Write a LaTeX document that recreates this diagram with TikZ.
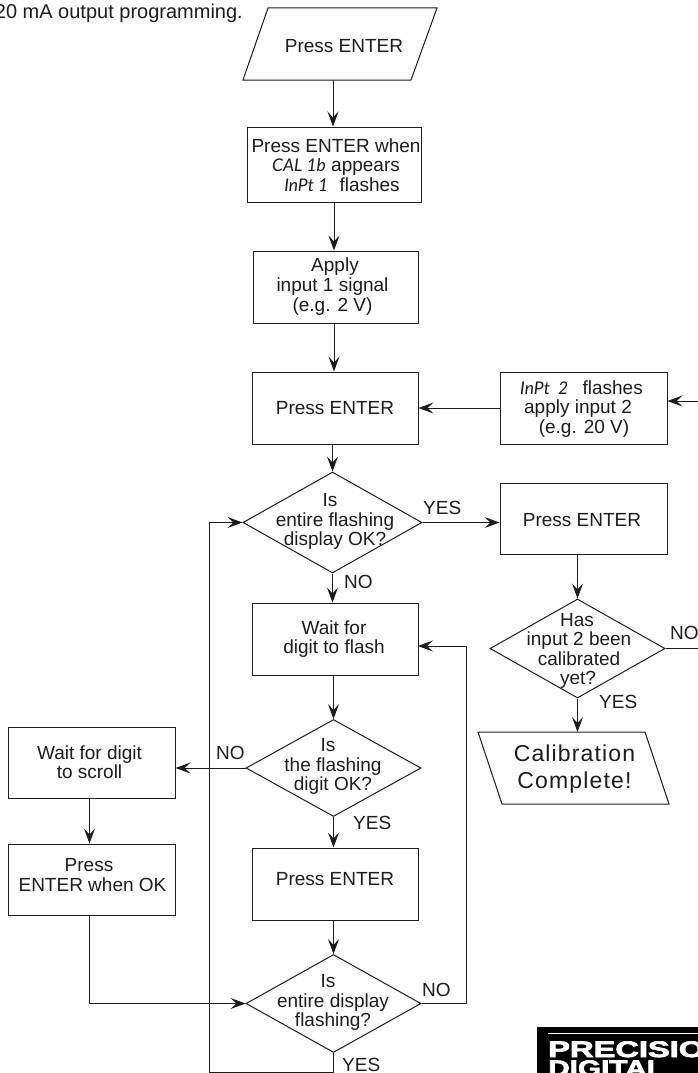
\documentclass[tikz,border=0pt]{standalone}
\usepackage{fontspec}
\setmainfont{Liberation Sans}
\newfontfamily\segf{Lato Italic}
\usetikzlibrary{shapes.geometric,arrows.meta,calc}
\definecolor{ink}{HTML}{1c1c1c}
\tikzset{
  x=1pt,y=-1pt,
  every node/.style={text=ink},
  stepbox/.style={draw=ink,line width=1pt,fill=white,inner sep=0pt,minimum width=#1,minimum height=72pt},
  stepbox/.default=166pt,
  decide/.style={draw=ink,line width=1pt,diamond,inner sep=0pt,aspect=1.8,minimum width=176pt,minimum height=98pt},
  para/.style={draw=ink,line width=1pt,line join=miter},
  txt/.style={align=center,inner sep=0pt,font=\fontsize{19}{19.6}\selectfont},
  tag/.style={anchor=base west,inner sep=0pt,font=\fontsize{19}{19.6}\selectfont},
  flow/.style={draw=ink,line width=1pt,-{Stealth[length=15pt,width=11pt,inset=6pt]}},
  link/.style={draw=ink,line width=1pt},
}
\newcommand{\sg}[1]{{\segf\fontsize{17.5}{19.6}\selectfont #1}}
\begin{document}
\begin{tikzpicture}
\useasboundingbox (0,0) rectangle (698,1073);
\node[anchor=base east,inner sep=0pt,font=\fontsize{20}{20}\selectfont] (head) at (243,19) {20 mA output programming.};

% start
\draw[para] (268,8) -- (437,8) -- (411,80) -- (243,80) -- cycle;
\coordinate (startB) at (333,80);
\node[txt] (startT) at (344,46) {Press ENTER};
\node[stepbox=174pt,minimum height=75pt] (b1) at (334,164.5) {};
\node[txt] (b1T) at (336,165) {Press ENTER when\\\sg{CAL 1b} appears\\\hspace*{12pt}\sg{InPt 1}\hspace{6pt} flashes};
\node[stepbox=165pt] (b2) at (335.5,287) {};
\node[txt] (b2T) at (332.5,286.5) {\hspace*{5pt}Apply\\input 1 signal\\(e.g. 2 V)};
\node[stepbox] (b3) at (335,408) {};
\node[txt] (b3T) at (335,408) {Press ENTER};
\node[stepbox=167pt] (r1) at (583.5,408) {};
\node[txt] (r1T) at (578,409) {\hspace*{7pt}\sg{InPt\ \ 2}\hspace{9pt} flashes\\apply input 2\\\hspace*{12pt}(e.g. 20 V)};
\coordinate (rIn) at (698,401);

% first decision
\node[decide,minimum width=179pt,minimum height=101pt] (d1) at (332.5,522.5) {};
\node[txt] (d1T) at (335,521.5) {Is\hspace*{10pt}\\entire flashing\\display OK?};
\node[stepbox=167pt,minimum height=71pt] (r2) at (583.5,518.5) {};
\node[txt] (r2T) at (582,520) {Press ENTER};
\node[decide,minimum width=175pt,minimum height=99pt] (d2) at (577.5,648.5) {};
\node[txt] (d2T) at (579,651) {Has\hspace*{4pt}\\input 2 been\\calibrated\\yet?\hspace*{2pt}};
\coordinate (noOut) at (698,648.5);
\draw[para] (478,732) -- (645,732) -- (669,804) -- (502,804) -- cycle;
\coordinate (endT0) at (576,732);
\node[txt,font=\fontsize{23}{27}\selectfont\addfontfeature{LetterSpace=5}] (endT) at (574.5,769) {Calibration\\Complete!};

% main column
\node[stepbox] (b4) at (335,639) {};
\node[txt] (b4T) at (334,639) {Wait for\\digit to flash};
\coordinate (b4In) at (418,646);
\node[decide,minimum width=175pt,minimum height=97pt] (d3) at (333.5,768) {};
\node[txt] (d3T) at (333,766.5) {Is\hspace*{10pt}\\the flashing\\digit OK?};
\node[stepbox=167pt,minimum height=71pt] (l1) at (91.5,762.5) {};
\node[txt] (l1T) at (89.5,762) {Wait for digit\\to scroll};
\node[stepbox=167pt,minimum height=71pt] (l2) at (91.5,879.5) {};
\node[txt] (l2T) at (92.5,875) {Press\hspace*{7pt}\\ENTER when OK};
\node[stepbox] (b5) at (335,884) {};
\node[txt] (b5T) at (335,879) {Press ENTER};
\node[decide,minimum width=175pt,minimum height=98pt] (d4) at (333.5,1003.5) {};
\node[txt] (d4T) at (333,1002.5) {Is\hspace*{10pt}\\entire display\\flashing?};

% connector bends
\coordinate (outY) at (209,1072);
\coordinate (backX) at (466,1002);

% connectors
\draw[flow] (startB) -- (b1.north -| startB);
\draw[flow] (b1.south) -- (b2.north -| b1.south);
\draw[flow] (b2.south -| b1.south) -- (b3.north -| b1.south);
\draw[flow] (b3.south -| d1.north) -- (d1.north);
\draw[flow] (r1.west) -- (b3.east);
\draw[flow] (rIn) -- (r1.east |- rIn);
\draw[flow] (d1.east) -- (r2.west |- d1.east);
\draw[flow] (d1.south) -- (b4.north -| d1.south);
\draw[flow] (b4.south -| d3.north) -- (d3.north);
\draw[flow] (d3.west) -- (l1.east |- d3.west);
\draw[flow] (d3.south) -- (b5.north -| d3.south);
\draw[flow] (l1.south -| l1T) -- (l2.north -| l1T);
\draw[flow] (b5.south -| d4.north) -- (d4.north);
\draw[flow] (l2.south -| l1T) |- (d4.west);
\draw[link] (d4.east) -| (backX);
\draw[flow] (backX) |- (b4In);
\draw[link] (d4.south) |- (outY);
\draw[flow] (outY) |- (d1.west);
\draw[flow] (r2.south -| d2.north) -- (d2.north);
\draw[flow] (d2.south) -- (endT0 -| d2.south);
\draw[link] (d2.east) -- (noOut);

% connector labels
\node[tag] (tY1) at (423,514) {YES};
\node[tag] (tN1) at (344,588) {NO};
\node[tag] (tN2) at (670,639) {NO};
\node[tag] (tY2) at (599,708) {YES};
\node[tag] (tN3) at (216,759) {NO};
\node[tag] (tY3) at (353,829) {YES};
\node[tag] (tN4) at (422,996) {NO};
\node[tag] (tY4) at (342,1071) {YES};

% logo
\fill[black] (537,1027) rectangle (698,1073);
\draw[white,line width=0.9pt] (548,1033.5) -- (698,1033.5);
\node[anchor=base west,inner sep=0pt,text=white,xscale=1.45,font=\fontsize{22.5}{22.5}\bfseries\selectfont\addfontfeature{FakeBold=3}] (logoA) at (548,1057) {PRECISION};
\node[anchor=base west,inner sep=0pt,text=white,xscale=1.32,font=\fontsize{22.5}{22.5}\bfseries\selectfont\addfontfeature{FakeBold=3}] (logoB) at (548,1076) {DIGITAL};
\end{tikzpicture}
\end{document}
